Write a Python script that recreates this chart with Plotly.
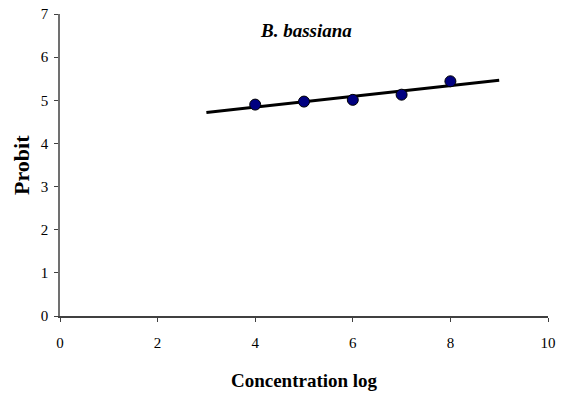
import numpy as np
import plotly.graph_objects as go

conc_log = [4, 5, 6, 7, 8]
probit = [4.90, 4.97, 5.01, 5.13, 5.44]
trend_x = [3, 9]

slope, intercept = np.polyfit(conc_log, probit, 1)
trend_y = [slope * x + intercept for x in trend_x]

fig = go.Figure()
fig.add_trace(go.Scatter(x=trend_x, y=trend_y, mode="lines",
                         line=dict(color="black", width=3), showlegend=False))
fig.add_trace(go.Scatter(x=conc_log, y=probit, mode="markers",
                         marker=dict(color="#000080", size=11, line=dict(color="black", width=1)),
                         showlegend=False))

font_family = "Liberation Serif, Times New Roman, serif"
fig.update_layout(
    width=561, height=394,
    margin=dict(l=60, r=13, t=14, b=78),
    paper_bgcolor="white", plot_bgcolor="white",
    font=dict(family=font_family, color="black", size=15),
    xaxis=dict(range=[0, 10], tickvals=[0, 2, 4, 6, 8, 10], showgrid=False, zeroline=False,
               showline=True, linecolor="#404040", linewidth=1.5, ticks="outside", ticklen=4,
               tickcolor="#404040", ticklabelstandoff=8, automargin=False,
               title=dict(text="<b>Concentration log</b>", font=dict(size=19, family=font_family), standoff=24)),
    yaxis=dict(range=[0, 7], tickvals=list(range(8)), showgrid=False, zeroline=False,
               showline=True, linecolor="#707070", linewidth=1.5, ticks="outside", ticklen=4,
               tickcolor="#404040", ticklabelstandoff=3, automargin=False),
    annotations=[
        dict(text="<b><i>B. bassiana</i></b>", x=5.05, y=6.62, xref="x", yref="y",
             showarrow=False, font=dict(size=19, family=font_family)),
        dict(text="<b>Probit</b>", x=-0.08, y=0.50, xref="paper", yref="paper",
             xanchor="center", yanchor="middle", textangle=-90,
             showarrow=False, font=dict(size=22, family=font_family)),
    ],
)
fig.write_html("out.html", post_script="document.body.style.margin='0';",
               config={"displayModeBar": False})
